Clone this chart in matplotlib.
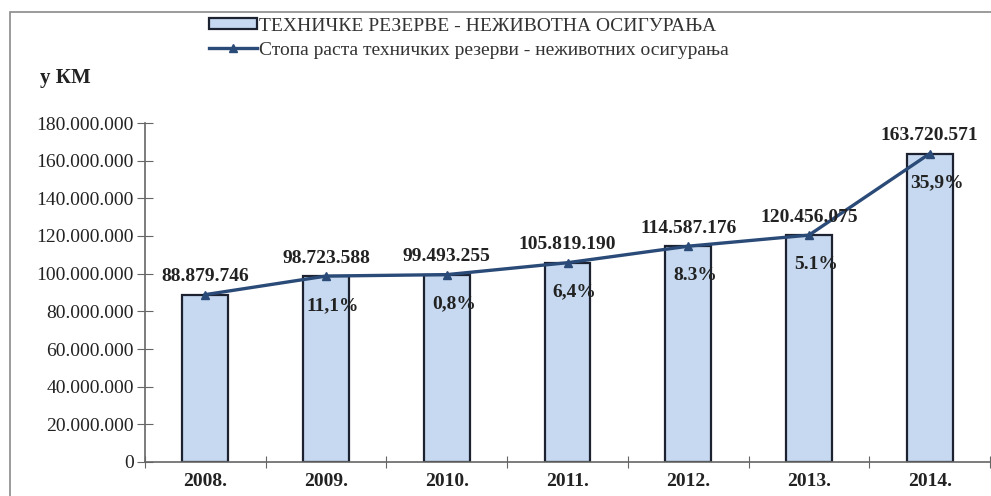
import numpy as np
import matplotlib.pyplot as plt
from matplotlib.patches import Rectangle, Patch
from matplotlib.lines import Line2D

plt.rcParams['font.family'] = ['Liberation Serif', 'DejaVu Serif']

# Техничке резерве по годинама (КМ)
godine = ['2008.', '2009.', '2010.', '2011.', '2012.', '2013.', '2014.']
rezerve = [88879746, 98723588, 99493255, 105819190, 114587176, 120456075, 163720571]
rezerve_lbl = ['88.879.746', '98.723.588', '99.493.255', '105.819.190',
               '114.587.176', '120.456.075', '163.720.571']
stopa_lbl = ['', '11,1%', '0,8%', '6,4%', '8.3%', '5.1%', '35,9%']

y_ticks = np.arange(0, 180000001, 20000000)
y_tick_lbl = ['0', '20.000.000', '40.000.000', '60.000.000', '80.000.000',
              '100.000.000', '120.000.000', '140.000.000', '160.000.000', '180.000.000']

bar_col = '#c6d9f0'
edge_col = '#1c2230'
line_col = '#2a4a78'
txt_col = '#222222'

fig = plt.figure(figsize=(9.91, 4.96), dpi=100)
ax = fig.add_axes([145/991, 34/496, 845/991, 339/496])

# okvir grafikona
fig.patches.append(Rectangle((10/991, -0.2), 1.2, 1.2 + (496-12)/496 - 1.0,
                             transform=fig.transFigure, fill=False,
                             edgecolor='#8a8a8a', linewidth=1.2))

x = np.arange(len(godine))
ax.bar(x, rezerve, width=0.38, color=bar_col, edgecolor=edge_col, linewidth=1.6, zorder=2)
ax.plot(x, rezerve, color=line_col, linewidth=2.4, marker='^', markersize=6, zorder=3)

for i in range(len(godine)):
    ax.annotate(rezerve_lbl[i], (x[i], rezerve[i]), xytext=(0, 13), textcoords='offset points',
                ha='center', va='center', fontsize=14, fontweight='bold', color=txt_col,
                annotation_clip=False, zorder=4)
    if stopa_lbl[i]:
        ax.annotate(stopa_lbl[i], (x[i], rezerve[i]), xytext=(5, -21), textcoords='offset points',
                    ha='center', va='center', fontsize=14, fontweight='bold', color=txt_col,
                    annotation_clip=False, zorder=4)

ax.set_xlim(-0.5, len(godine) - 0.5)
ax.set_ylim(0, 180000000)
ax.set_yticks(y_ticks)
ax.set_yticklabels(y_tick_lbl, fontsize=14, color=txt_col)
ax.set_xticks(np.arange(-0.5, len(godine), 1.0))
ax.set_xticklabels([])
ax.set_xticks(x, minor=True)
ax.set_xticklabels(godine, minor=True, fontsize=14, fontweight='bold', color=txt_col)
ax.tick_params(axis='x', which='minor', length=0, pad=8)
ax.tick_params(axis='x', which='major', direction='inout', length=8, color='#666666')
ax.tick_params(axis='y', direction='inout', length=12, color='#666666', pad=2)

for s in ['top', 'right']:
    ax.spines[s].set_visible(False)
for s in ['left', 'bottom']:
    ax.spines[s].set_color('#666666')
    ax.spines[s].set_linewidth(1.2)

fig.text(40/991, 1 - 78/496, 'у КМ', fontsize=15, fontweight='bold', color=txt_col, va='center')

handles = [Patch(facecolor=bar_col, edgecolor=edge_col, linewidth=1.6),
           Line2D([0], [0], color=line_col, linewidth=2.4, marker='^', markersize=6)]
labels = ['ТЕХНИЧКЕ РЕЗЕРВЕ - НЕЖИВОТНА ОСИГУРАЊА',
          'Стопа раста техничких резерви - неживотних осигурања']
fig.legend(handles, labels, loc='upper left', bbox_to_anchor=(201/991, 1 - 10/496),
           frameon=False, fontsize=14, handlelength=2.5, handleheight=0.5,
           handletextpad=0.1, labelspacing=0.35, labelcolor='#333333', borderaxespad=0)

fig.savefig('out.png', dpi=100)
